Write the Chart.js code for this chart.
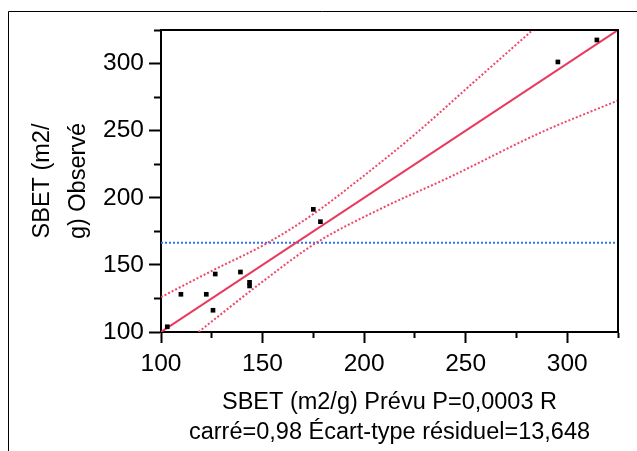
<!DOCTYPE html>
<html>
<head>
  <title>SBET Observé vs Prévu</title>
  <script src="https://cdn.jsdelivr.net/npm/chart.js"></script>
  <style>
    body { margin: 0; padding: 0; background: #fff; }
    #chart { display: block; }
  </style>
</head>
<body>
  <canvas id="chart" width="637" height="451"></canvas>
  <script>
    // observed vs predicted points
    const predX = [103.1, 109.8, 122.3, 125.6, 126.7, 139.1, 143.6, 143.6, 175.0, 178.5, 295.4, 314.6];
    const obsY  = [103.9, 128.1, 128.1, 116.2, 143.2, 144.7, 137.0, 134.3, 191.4, 182.2, 301.2, 317.6];

    // fit line and confidence curves
    const fitX = [100, 325];
    const fitY = [100, 325];
    const upperX = [100, 125, 152.6, 175.6, 197, 224.8, 253.5, 283];
    const upperY = [126, 145.5, 166.5, 188.5, 213, 247, 285.5, 325];
    const lowerX = [118.5, 150, 176.5, 208.4, 241.3, 288, 325];
    const lowerY = [100, 137.5, 166.5, 192, 214.8, 249.3, 272.5];
    const meanX = [100, 325];
    const meanY = [166.5, 166.5];

    const xTitle = ['SBET (m2/g) Prévu P=0,0003 R', 'carré=0,98 Écart-type résiduel=13,648'];
    const yTitle = ['SBET (m2/', 'g) Observé'];

    const pts = (xs, ys) => xs.map((x, i) => ({x: x, y: ys[i]}));

    const red = 'rgb(232,58,92)';
    const pink = 'rgb(240,70,105)';
    const blue = 'rgb(50,115,230)';

    Chart.defaults.font.family = "'Liberation Sans', Arial, sans-serif";
    Chart.defaults.color = '#000';

    const frame = {
      id: 'frame',
      afterDraw(chart) {
        const {ctx, chartArea: a} = chart;
        ctx.save();
        ctx.strokeStyle = '#000';
        ctx.lineWidth = 2;
        ctx.beginPath();
        ctx.moveTo(a.left, a.top);
        ctx.lineTo(a.right, a.top);
        ctx.lineTo(a.right, a.bottom);
        ctx.stroke();
        ctx.lineWidth = 1;
        ctx.beginPath();
        ctx.moveTo(8.5, chart.height);
        ctx.lineTo(8.5, 11.5);
        ctx.lineTo(chart.width, 11.5);
        ctx.stroke();
        ctx.restore();
      }
    };

    const isMajor = v => v % 50 === 0;

    new Chart(document.getElementById('chart'), {
      type: 'scatter',
      data: {
        datasets: [
          {
            data: pts(predX, obsY),
            pointStyle: 'rect',
            pointRadius: 3.3,
            pointBackgroundColor: '#000',
            pointBorderWidth: 0
          },
          {
            data: pts(fitX, fitY),
            showLine: true, pointRadius: 0,
            borderColor: red, borderWidth: 2
          },
          {
            data: pts(upperX, upperY),
            showLine: true, pointRadius: 0, cubicInterpolationMode: 'monotone',
            borderColor: pink, borderWidth: 2, borderDash: [2, 2]
          },
          {
            data: pts(lowerX, lowerY),
            showLine: true, pointRadius: 0, cubicInterpolationMode: 'monotone',
            borderColor: pink, borderWidth: 2, borderDash: [2, 2]
          },
          {
            data: pts(meanX, meanY),
            showLine: true, pointRadius: 0,
            borderColor: blue, borderWidth: 2, borderDash: [2, 2]
          }
        ]
      },
      options: {
        responsive: false,
        animation: false,
        layout: { padding: { left: 0, top: 30, right: 19, bottom: 0 } },
        plugins: { legend: { display: false }, tooltip: { enabled: false } },
        scales: {
          x: {
            type: 'linear', min: 100, max: 325,
            afterFit: s => { s.height = 119; },
            border: { color: '#000', width: 2 },
            grid: {
              drawOnChartArea: false, tickLength: 11, tickWidth: 2, tickColor: '#000',
              tickBorderDash: c => isMajor(c.tick.value) ? [] : [5, 100]
            },
            ticks: {
              stepSize: 25, autoSkip: false, maxRotation: 0, padding: 7,
              font: { size: 24.5 },
              callback: v => isMajor(v) ? v : ''
            },
            title: {
              display: true, text: xTitle,
              font: { size: 23.5, lineHeight: 1.26 },
              padding: { top: 0, bottom: 4 }
            }
          },
          y: {
            type: 'linear', min: 100, max: 325,
            afterFit: s => { s.width = 161; },
            border: { color: '#000', width: 2 },
            grid: {
              drawOnChartArea: false, tickLength: 12, tickWidth: 2, tickColor: '#000',
              tickBorderDash: c => isMajor(c.tick.value) ? [] : [0, 5, 7, 100]
            },
            ticks: {
              stepSize: 25, autoSkip: false, padding: 5,
              font: { size: 24.5 },
              callback: v => isMajor(v) ? v : ''
            },
            title: {
              display: true, text: yTitle,
              font: { size: 23.5, lineHeight: 1.56 },
              padding: { top: 24, bottom: 0 }
            }
          }
        }
      },
      plugins: [frame]
    });
  </script>
</body>
</html>
